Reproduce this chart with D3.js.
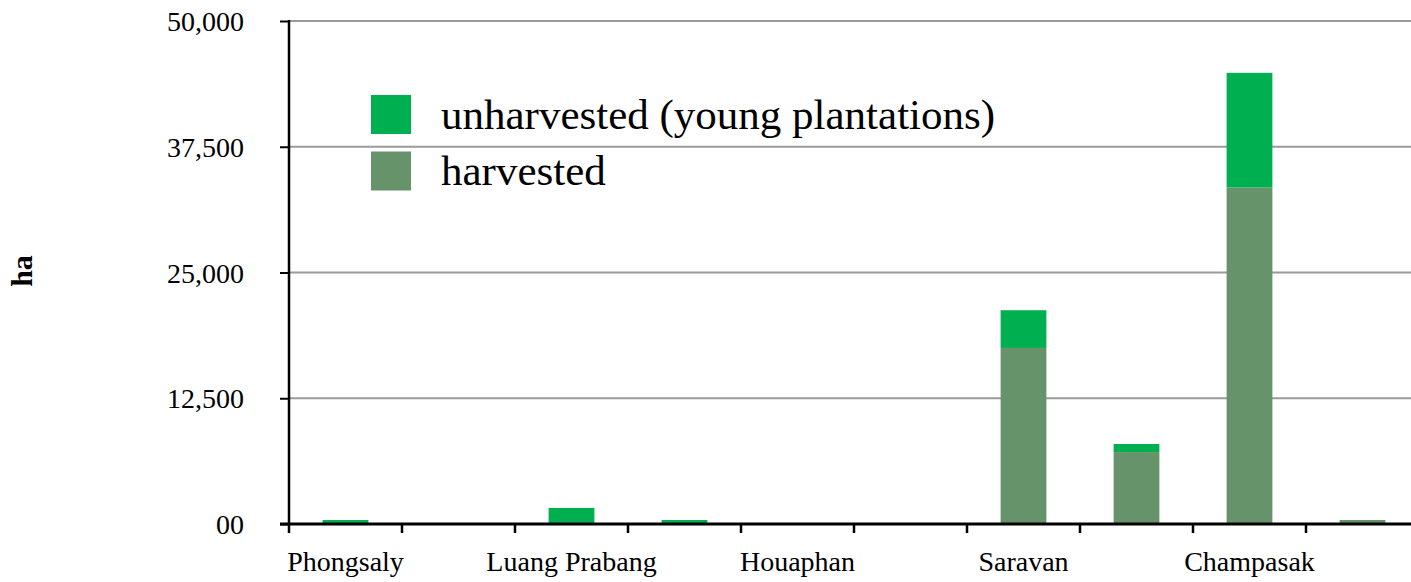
<!DOCTYPE html>
<html>
<head>
<meta charset="utf-8">
<script src="https://cdn.jsdelivr.net/npm/d3@7/dist/d3.min.js"></script>
<style>
  html, body { margin: 0; padding: 0; background: #fff; }
  svg { display: block; }
  text { font-family: "Liberation Serif", "DejaVu Serif", serif; fill: #000; }
</style>
</head>
<body>
<svg id="chart" width="1411" height="582"></svg>
<script>
// ---- data ----
const categories = ["Phongsaly", "Oudomxay", "Luang Prabang", "Xayabury", "Houaphan",
                    "Savannakhet", "Saravan", "Sekong", "Champasak", "Attapeu"];
const shownLabels = ["Phongsaly", "Luang Prabang", "Houaphan", "Saravan", "Champasak"];
const harvested   = [0, 0, 0, 0, 0, 0, 17500, 7150, 33450, 400];
const unharvested = [400, 0, 1600, 400, 0, 0, 3750, 800, 11400, 0];
const seriesNames = ["unharvested (young plantations)", "harvested"];
const seriesColors = ["#00B050", "#669369"];
const yTickValues = [0, 12500, 25000, 37500, 50000];
const yTickLabels = ["00", "12,500", "25,000", "37,500", "50,000"];
const yTitle = "ha";

// ---- layout ----
const svg = d3.select("#chart");
const x0 = 289, step = 113;
const x = d3.scaleBand()
  .domain(categories)
  .range([x0, x0 + step * categories.length])
  .paddingInner(0.595)
  .paddingOuter(0.2975);
const y = d3.scaleLinear().domain([0, 50000]).range([524, 21]);

// gridlines
svg.append("g").selectAll("line")
  .data(yTickValues.filter(v => v > 0))
  .join("line")
  .attr("x1", x0).attr("x2", 1411)
  .attr("y1", d => y(d)).attr("y2", d => y(d))
  .attr("stroke", "#9a9a9a").attr("stroke-width", 2);

// stacked bars
const rows = categories.map((c, i) => ({ cat: c, harvested: harvested[i], unharvested: unharvested[i] }));
const stack = d3.stack().keys(["harvested", "unharvested"])(rows);
const colorFor = { harvested: seriesColors[1], unharvested: seriesColors[0] };
svg.append("g").selectAll("g")
  .data(stack)
  .join("g")
  .attr("fill", d => colorFor[d.key])
  .selectAll("rect")
  .data(d => d)
  .join("rect")
  .attr("x", d => x(d.data.cat))
  .attr("width", x.bandwidth())
  .attr("y", d => y(d[1]))
  .attr("height", d => Math.max(0, y(d[0]) - y(d[1])));

// y axis
const yAxis = d3.axisLeft(y)
  .tickValues(yTickValues)
  .tickSize(9)
  .tickPadding(36)
  .tickFormat((d, i) => yTickLabels[i]);
const gy = svg.append("g").attr("transform", `translate(${x0},0)`).call(yAxis);
gy.select(".domain").attr("stroke", "#000").attr("stroke-width", 2.5)
  .attr("d", `M0,${y(50000) - 1}V${y(0)}`);
gy.selectAll(".tick line").attr("stroke", "#000").attr("stroke-width", 2);
gy.selectAll(".tick text")
  .style("font-family", '"Liberation Serif", serif')
  .style("font-size", "28px")
  .attr("dy", "0.34em");

// x axis
svg.append("line")
  .attr("x1", x0 - 9).attr("x2", 1411)
  .attr("y1", y(0)).attr("y2", y(0))
  .attr("stroke", "#000").attr("stroke-width", 3);
const boundaries = categories.map(c => x(c) - (x.step() - x.bandwidth()) / 2)
  .concat([x(categories[categories.length - 1]) + x.bandwidth() + (x.step() - x.bandwidth()) / 2]);
svg.append("g").selectAll("line")
  .data(boundaries)
  .join("line")
  .attr("x1", d => d).attr("x2", d => d)
  .attr("y1", y(0)).attr("y2", y(0) + 9)
  .attr("stroke", "#000").attr("stroke-width", 2.5);
svg.append("g").selectAll("text")
  .data(shownLabels)
  .join("text")
  .attr("x", d => x(d) + x.bandwidth() / 2)
  .attr("y", 571)
  .attr("text-anchor", "middle")
  .style("font-size", "28px")
  .text(d => d);

// y title
svg.append("text")
  .attr("transform", "translate(32,271) rotate(-90)")
  .attr("text-anchor", "middle")
  .style("font-size", "30px")
  .style("font-weight", "bold")
  .text(yTitle);

// legend
const legend = svg.append("g");
const legendY = [114.5, 171];
seriesNames.forEach((name, i) => {
  legend.append("rect")
    .attr("x", 371).attr("y", legendY[i] - 19.5)
    .attr("width", 40).attr("height", 39)
    .attr("fill", seriesColors[i]);
  legend.append("text")
    .attr("x", 441).attr("y", legendY[i])
    .attr("dy", "0.33em")
    .style("font-size", "43px")
    .text(name);
});
</script>
</body>
</html>
